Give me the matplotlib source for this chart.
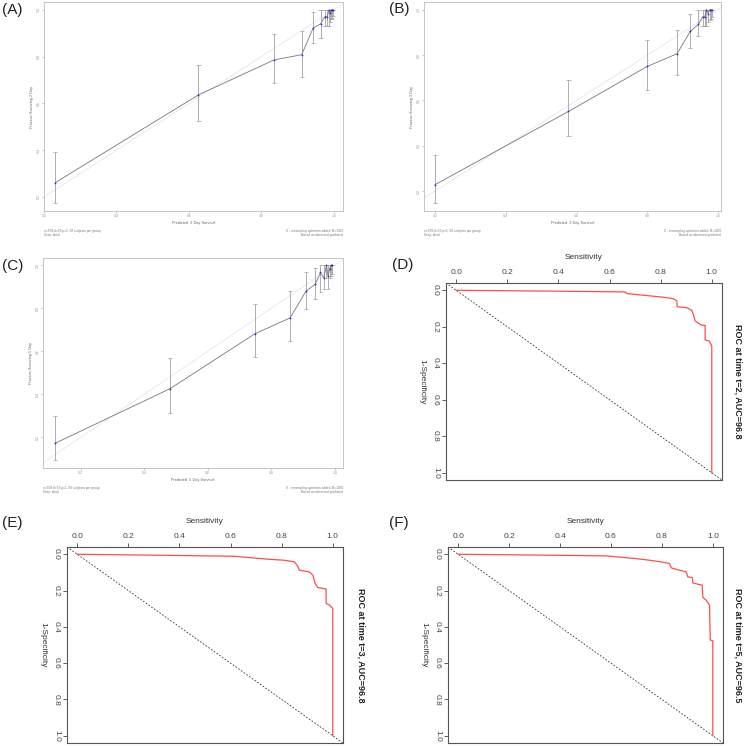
import matplotlib
matplotlib.use("Agg")
import matplotlib.pyplot as plt

plt.rcParams['font.family'] = ['Liberation Sans', 'DejaVu Sans']

W, H = 745, 746

# ---- calibration data (predicted, observed, CI low, CI high) ----
a_pred = [0.231, 0.626, 0.834, 0.911, 0.943, 0.963, 0.974, 0.982, 0.986, 0.990, 0.993, 0.995, 0.997]
a_obs = [0.261, 0.636, 0.785, 0.808, 0.923, 0.939, 0.969, 0.971, 0.999, 0.986, 1.0, 1.0, 1.0]
a_lo = [0.173, 0.525, 0.688, 0.714, 0.859, 0.880, 0.929, 0.929, 0.929, 0.947, 0.960, 0.965, 0.975]
a_hi = [0.392, 0.765, 0.897, 0.910, 0.990, 1.0, 1.0, 1.0, 1.0, 1.0, 1.0, 1.0, 1.0]

b_pred = [0.200, 0.577, 0.800, 0.884, 0.921, 0.944, 0.956, 0.962, 0.967, 0.972, 0.976, 0.979, 0.982]
b_obs = [0.228, 0.551, 0.750, 0.806, 0.904, 0.935, 0.968, 0.968, 1.0, 0.982, 1.0, 1.0, 1.0]
b_lo = [0.146, 0.441, 0.647, 0.713, 0.832, 0.882, 0.926, 0.926, 0.926, 0.945, 0.955, 0.960, 0.970]
b_hi = [0.359, 0.691, 0.868, 0.912, 0.979, 1.0, 1.0, 1.0, 1.0, 1.0, 1.0, 1.0, 1.0]

c_pred = [0.119, 0.481, 0.749, 0.859, 0.909, 0.939, 0.955, 0.965, 0.974, 0.979, 0.984, 0.988, 0.991]
c_obs = [0.172, 0.426, 0.682, 0.755, 0.879, 0.913, 0.967, 0.941, 1.0, 0.949, 0.983, 1.0, 1.0]
c_lo = [0.096, 0.313, 0.572, 0.650, 0.797, 0.843, 0.874, 0.889, 0.941, 0.890, 0.941, 0.950, 0.960]
c_hi = [0.301, 0.569, 0.820, 0.879, 0.969, 0.988, 1.0, 1.0, 1.0, 1.0, 1.0, 1.0, 1.0]

cal_ticks = [0.2, 0.4, 0.6, 0.8, 1.0]

# ---- ROC data (sensitivity, 1-specificity) ----
d_sens = [0.0, 0.40, 0.661, 0.668, 0.804, 0.850, 0.863, 0.865, 0.901, 0.922, 0.928, 0.935, 0.948, 0.961, 0.974, 0.974, 0.990, 1.0, 1.0]
d_fpr = [0.0, 0.005, 0.009, 0.018, 0.037, 0.046, 0.058, 0.090, 0.095, 0.110, 0.132, 0.168, 0.181, 0.192, 0.192, 0.272, 0.278, 0.305, 1.0]

e_sens = [0.0, 0.35, 0.614, 0.745, 0.810, 0.850, 0.863, 0.869, 0.908, 0.922, 0.931, 0.941, 0.974, 0.974, 0.987, 1.0, 1.0]
e_fpr = [0.0, 0.006, 0.011, 0.027, 0.033, 0.042, 0.066, 0.088, 0.097, 0.115, 0.161, 0.183, 0.192, 0.271, 0.280, 0.299, 1.0]

f_sens = [0.0, 0.35, 0.582, 0.699, 0.752, 0.797, 0.830, 0.837, 0.869, 0.895, 0.902, 0.919, 0.922, 0.941, 0.958, 0.961, 0.974, 0.987, 0.990, 1.0, 1.0]
f_fpr = [0.0, 0.005, 0.009, 0.024, 0.033, 0.042, 0.051, 0.075, 0.088, 0.097, 0.125, 0.128, 0.158, 0.165, 0.170, 0.238, 0.253, 0.280, 0.473, 0.476, 1.0]

roc_ticks = [0.0, 0.2, 0.4, 0.6, 0.8, 1.0]


def axes_px(fig, left, top, right, bottom):
    return fig.add_axes([left / W, 1 - bottom / H, (right - left) / W, (bottom - top) / H])


def calib(ax, pred, obs, lo, hi, xlim, ylim, day):
    ax.plot([0, 1.1], [0, 1.1], color='#e6e6e6', lw=0.6, zorder=1)
    ax.vlines(pred, lo, hi, color='#a0a0a0', lw=0.6, zorder=2)
    ax.hlines(lo, [p - 0.006 for p in pred], [p + 0.006 for p in pred], color='#a0a0a0', lw=0.5)
    ax.hlines(hi, [p - 0.006 for p in pred], [p + 0.006 for p in pred], color='#a0a0a0', lw=0.5)
    ax.plot(pred, obs, color='#777777', lw=0.6, zorder=3)
    ax.plot(pred, obs, 'o', color='#2a2ad0', ms=1.3, mew=0, zorder=4)
    ax.set_xlim(xlim)
    ax.set_ylim(ylim)
    ax.set_xticks(cal_ticks)
    ax.set_yticks(cal_ticks)
    ax.set_xticklabels(['%.1f' % t for t in cal_ticks])
    ax.set_yticklabels(['%.1f' % t for t in cal_ticks], rotation=90, va='center')
    ax.tick_params(labelsize=2.5, length=1.5, width=0.4, colors='#999999', pad=1)
    for s in ax.spines.values():
        s.set_color('#bbbbbb')
        s.set_linewidth(0.6)
    ax.set_xlabel('Predicted  %d Day Survival' % day, fontsize=2.8, color='#666666', labelpad=2)
    ax.set_ylabel('Fraction Surviving %d Day' % day, fontsize=2.8, color='#666666', labelpad=2)
    ax.text(0.0, -0.085, 'n=558 d=53 p=1, 50 subjects per group\nGray: ideal',
            transform=ax.transAxes, fontsize=2.3, color='#777777', va='top', ha='left')
    ax.text(1.0, -0.085, 'X - resampling optimism added, B=1000\nBased on observed-predicted',
            transform=ax.transAxes, fontsize=2.3, color='#777777', va='top', ha='right')


def roc(ax, sens, fpr, title, gap):
    ax.axline((0, 0), (1, 1), color='#333333', lw=0.6, ls=(0, (2, 2)))
    ax.plot(sens, fpr, color='#ff4d4d', lw=0.9)
    ax.set_xlim(-0.04, 1.04)
    ax.set_ylim(1.04, -0.04)
    ax.xaxis.tick_top()
    ax.xaxis.set_label_position('top')
    ax.set_xticks(roc_ticks)
    ax.set_yticks(roc_ticks)
    ax.set_xticklabels(['%.1f' % t for t in roc_ticks])
    ax.set_yticklabels(['%.1f' % t for t in roc_ticks], rotation=-90, va='center')
    ax.tick_params(labelsize=6, length=3, width=0.6, colors='#444444', pad=2)
    for s in ax.spines.values():
        s.set_color('#555555')
        s.set_linewidth(0.8)
    ax.set_xlabel('Sensitivity', fontsize=6, color='#333333', labelpad=7)
    ax.set_ylabel('1-Specificity', fontsize=6, color='#333333', rotation=-90, labelpad=10)
    width = ax.get_position().width * W
    ax.text(1 + gap / width, 0.5, title, transform=ax.transAxes, rotation=-90, fontsize=6.5,
            fontweight='bold', va='center', ha='center', color='#222222')


fig = plt.figure(figsize=(W / 100, H / 100), dpi=100)

ax_a = axes_px(fig, 44, 2, 343, 211)
calib(ax_a, a_pred, a_obs, a_lo, a_hi, (0.2, 1.025), (0.14, 1.033), 2)
ax_b = axes_px(fig, 424, 2, 721, 211)
calib(ax_b, b_pred, b_obs, b_lo, b_hi, (0.169, 1.008), (0.112, 1.034), 3)
ax_c = axes_px(fig, 43, 258, 343, 468)
calib(ax_c, c_pred, c_obs, c_lo, c_hi, (0.081, 1.026), (0.057, 1.034), 5)

ax_d = axes_px(fig, 446, 283, 722, 480)
roc(ax_d, d_sens, d_fpr, 'ROC at time t=2, AUC=96.8', 16)
ax_e = axes_px(fig, 67, 547, 343, 743)
roc(ax_e, e_sens, e_fpr, 'ROC at time t=3, AUC=96.8', 18)
ax_f = axes_px(fig, 448, 547, 723, 743)
roc(ax_f, f_sens, f_fpr, 'ROC at time t=5, AUC=96.5', 15)

for lab, x, y in [('(A)', 2, 10), ('(B)', 372 + 17, 9), ('(C)', 2, 266),
                  ('(D)', 372 + 20, 265), ('(E)', 2, 523), ('(F)', 372 + 17, 523)]:
    fig.text(x / W, 1 - y / H, lab, fontsize=11, va='center', ha='left', color='#222222')

fig.savefig('out.png', dpi=100)
